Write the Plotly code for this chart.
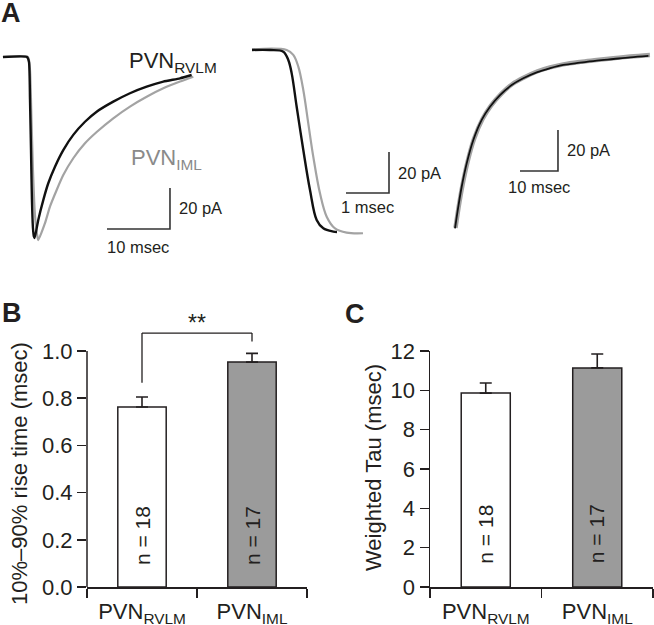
import plotly.graph_objects as go

W, H = 654, 625

# ---------------- DATA ----------------
# Panel A (left): whole EPSC, time (ms) and current (pA)
left_t_rvlm = [-3.97, -0.16, 0.16, 0.32, 0.48, 0.63, 0.79, 0.95, 1.06, 1.635, 2.429, 3.222, 4.286, 5.603, 7.190,
               9.048, 10.905, 13.54, 16.19, 18.84, 21.48, 24.13, 25.98]
left_i_rvlm = [0, 0, -2.4, -20.5, -45.4, -69.8, -83.4, -87.7, -88.3, -79.5, -69.8, -61.6, -53.5, -45.4, -38.0,
               -31.6, -26.7, -21.8, -17.7, -14.5, -12.0, -10.4, -8.8]
left_t_iml = [-3.97, 0.0, 0.32, 0.56, 0.79, 1.11, 1.43, 1.635, 2.698, 3.492, 4.556, 5.603, 7.190, 9.048, 10.905,
              13.54, 16.19, 18.84, 21.48, 24.13, 26.24]
left_i_iml = [0, 0, -6.3, -30.7, -55.1, -77.1, -86.3, -89.3, -81.1, -73.0, -64.9, -57.6, -49.4, -42.1, -36.6,
              -29.9, -24.2, -19.4, -15.3, -12.0, -9.6]

# Panel A (middle): rising phase
mid_t_rvlm = [-0.651, -0.233, 0.077, 0.193, 0.272, 0.388, 0.542, 0.698, 0.853, 1.007, 1.240, 1.326]
mid_i_rvlm = [0, 0, -0.8, -4.9, -11.4, -27.7, -48.8, -68.3, -82.9, -87.0, -88.6, -88.8]
mid_t_iml = [-0.651, 0.156, 0.309, 0.426, 0.542, 0.658, 0.774, 0.930, 1.086, 1.279, 1.551, 1.930]
mid_i_iml = [0.3, 0, -2.4, -8.1, -19.5, -35.8, -52.0, -69.9, -81.3, -87.0, -89.1, -89.4]

# Panel A (right): decay phase
right_t_rvlm = [0, 0.87, 1.76, 3.08, 4.82, 7.03, 9.21, 11.84, 14.92, 17.97, 21.50, 25.0, 28.5, 32.9, 37.3, 41.7,
                46.1, 50.9]
right_i_rvlm = [-87.0, -76.4, -66.7, -55.3, -43.9, -34.1, -27.7, -22.0, -17.1, -13.8, -10.9, -8.9, -7.3, -6.2,
                -5.2, -4.4, -3.6, -2.9]
right_t_iml = [0.13, 1.05, 1.97, 3.29, 5.0, 7.24, 9.47, 12.1, 15.13, 18.16, 21.58, 25.0, 28.5, 32.9, 37.3, 41.7,
               46.1, 51.3]
right_i_iml = [-86.8, -75.6, -65.9, -54.6, -43.4, -33.7, -27.1, -21.5, -16.6, -13.4, -10.5, -8.5, -7.0, -5.8,
               -4.9, -4.0, -3.2, -2.4]

# Panels B and C
groups = ["PVN<sub>RVLM</sub>", "PVN<sub>IML</sub>"]
n_labels = ["n = 18", "n = 17"]
rise_mean = [0.763, 0.953]
rise_sem = [0.042, 0.037]
tau_mean = [9.86, 11.14]
tau_sem = [0.51, 0.71]

# ---------------- STYLE ----------------
FONT = "Liberation Sans, Arial, sans-serif"
INK = "#231f20"
BLACK_TRACE = "#111111"
GRAY_TRACE = "#a3a3a3"
BAR_COLORS = ["#ffffff", "#9b9b9b"]


def px_x(p):
    return p / W


def px_y(p):
    return 1 - p / H


fig = go.Figure()

# Panel A traces
fig.add_trace(go.Scatter(x=left_t_iml, y=left_i_iml, mode="lines",
                         line=dict(color=GRAY_TRACE, width=2.2, shape="spline", smoothing=0.5),
                         xaxis="x", yaxis="y", showlegend=False))
fig.add_trace(go.Scatter(x=left_t_rvlm, y=left_i_rvlm, mode="lines",
                         line=dict(color=BLACK_TRACE, width=2.4, shape="spline", smoothing=0.5),
                         xaxis="x", yaxis="y", showlegend=False))
fig.add_trace(go.Scatter(x=mid_t_iml, y=mid_i_iml, mode="lines", line=dict(color=GRAY_TRACE, width=2.2, shape="spline"),
                         xaxis="x2", yaxis="y2", showlegend=False))
fig.add_trace(go.Scatter(x=mid_t_rvlm, y=mid_i_rvlm, mode="lines", line=dict(color=BLACK_TRACE, width=2.4, shape="spline"),
                         xaxis="x2", yaxis="y2", showlegend=False))
fig.add_trace(go.Scatter(x=right_t_iml, y=right_i_iml, mode="lines", line=dict(color=GRAY_TRACE, width=4.5, shape="spline"),
                         xaxis="x3", yaxis="y3", showlegend=False))
fig.add_trace(go.Scatter(x=right_t_rvlm, y=right_i_rvlm, mode="lines", line=dict(color=BLACK_TRACE, width=1.8, shape="spline"),
                         xaxis="x3", yaxis="y3", showlegend=False))

# scale bars (ms, pA) with corner positions in each panel's data units
scalebars = [
    # axis suffix, corner t, corner i, time length, current length, time label, label shift
    ("", 22.54, -83.9, 10, 20, "10 msec", -18),
    ("2", 2.535, -69.76, 1, 20, "1 msec", -14),
    ("3", 27.1, -59.0, 10, 20, "10 msec", -16),
]
annotations = []
for sfx, ct, ci, tl, il, tlabel, ysh in scalebars:
    fig.add_trace(go.Scatter(x=[ct - tl, ct, ct], y=[ci, ci, ci + il], mode="lines",
                             line=dict(color="#333333", width=1.6), xaxis="x" + sfx, yaxis="y" + sfx,
                             showlegend=False))
    annotations.append(dict(x=ct, y=ci + il / 2, xref="x" + sfx, yref="y" + sfx, text="20 pA",
                            showarrow=False, xanchor="left", yanchor="middle", xshift=7,
                            font=dict(size=16.5, color=INK, family=FONT)))
    annotations.append(dict(x=ct - tl / 2, y=ci, xref="x" + sfx, yref="y" + sfx, text=tlabel,
                            showarrow=False, xanchor="center", yanchor="middle", yshift=ysh,
                            font=dict(size=16.5, color=INK, family=FONT)))

# trace labels
annotations.append(dict(x=px_x(127), y=px_y(62), xref="paper", yref="paper", text="PVN<sub>RVLM</sub>",
                        showarrow=False, xanchor="left", yanchor="middle",
                        font=dict(size=22, color=INK, family=FONT)))
annotations.append(dict(x=px_x(129), y=px_y(159), xref="paper", yref="paper", text="PVN<sub>IML</sub>",
                        showarrow=False, xanchor="left", yanchor="middle",
                        font=dict(size=22, color="#8a8a8a", family=FONT)))

# Panels B / C bars
for sfx, means, sems in [("4", rise_mean, rise_sem), ("5", tau_mean, tau_sem)]:
    fig.add_trace(go.Bar(x=[0, 1], y=means, width=0.44, xaxis="x" + sfx, yaxis="y" + sfx,
                         marker=dict(color=BAR_COLORS, line=dict(color=INK, width=1.5)),
                         error_y=dict(type="data", symmetric=False, array=sems, arrayminus=[0, 0],
                                      color=INK, thickness=1.6, width=6),
                         showlegend=False, hoverinfo="skip"))

# n labels inside bars
for sfx, ypos in [("4", 0.216), ("5", 2.7)]:
    for k, lab in enumerate(n_labels):
        annotations.append(dict(x=k, y=ypos, xref="x" + sfx, yref="y" + sfx, text=lab, textangle=-90,
                                xanchor="center", yanchor="middle",
                                showarrow=False, font=dict(size=21, color=INK, family=FONT)))

# significance bracket on B
left_bottom = rise_mean[0] + rise_sem[0] + 0.06
right_bottom = rise_mean[1] + rise_sem[1] + 0.05
top = 1.076
shapes = [
    dict(type="line", xref="x4", yref="y4", x0=0, x1=0, y0=left_bottom, y1=top, line=dict(color=INK, width=1.3)),
    dict(type="line", xref="x4", yref="y4", x0=0, x1=1, y0=top, y1=top, line=dict(color=INK, width=1.3)),
    dict(type="line", xref="x4", yref="y4", x0=1, x1=1, y0=right_bottom, y1=top, line=dict(color=INK, width=1.3)),
    # y axis line of B (stops at 1.0)
    dict(type="line", xref="x4 domain", yref="y4", x0=0, x1=0, y0=0, y1=1.0, line=dict(color=INK, width=1.5)),
]
annotations.append(dict(x=0.5, y=top, xref="x4", yref="y4", text="**", showarrow=False, xanchor="center",
                        yanchor="bottom", yshift=-5, font=dict(size=23, color=INK, family=FONT)))

# y titles
annotations.append(dict(x=px_x(19), y=px_y(474), xref="paper", yref="paper", text="10%\u201390% rise time (msec)",
                        textangle=-90, xanchor="center", yanchor="middle", showarrow=False,
                        font=dict(size=22, color=INK, family=FONT)))
annotations.append(dict(x=px_x(373), y=px_y(468), xref="paper", yref="paper", text="Weighted Tau (msec)",
                        textangle=-90, xanchor="center", yanchor="middle", showarrow=False,
                        font=dict(size=22, color=INK, family=FONT)))

# panel letters
for letter, xp, yp in [("A", 11, 13), ("B", 12, 313), ("C", 355, 314)]:
    annotations.append(dict(x=px_x(xp), y=px_y(yp), xref="paper", yref="paper", text="<b>%s</b>" % letter,
                            xanchor="center", yanchor="middle",
                            showarrow=False, font=dict(size=27, color=INK, family=FONT)))

hidden = dict(visible=False, showgrid=False, zeroline=False, fixedrange=True, automargin=False)

yB_top = 1 - (587 - 236 * 1.12) / H


def bar_xaxis(domain, anchor):
    return dict(domain=domain, anchor=anchor, range=[-0.5, 1.5], tickmode="array", tickvals=[0, 1],
                ticktext=groups, ticks="", showline=True, linecolor=INK, linewidth=1.5, showgrid=False,
                zeroline=False, automargin=False, tickfont=dict(size=22, color=INK, family=FONT),
                ticklabelstandoff=4,
                minor=dict(tickmode="linear", tick0=-0.5, dtick=1, ticks="outside", ticklen=9,
                           tickcolor=INK, tickwidth=1.5, showgrid=False))


fig.update_layout(
    width=W, height=H, margin=dict(l=0, r=0, t=0, b=0, autoexpand=False),
    paper_bgcolor="white", plot_bgcolor="rgba(0,0,0,0)",
    font=dict(family=FONT, color=INK),
    hovermode=False,
    xaxis=dict(domain=[0, px_x(235)], range=[-4.44, 32.86], anchor="y", **hidden),
    yaxis=dict(domain=[px_y(255), 1], range=[-96.6, 27.8], anchor="x", **hidden),
    xaxis2=dict(domain=[px_x(240), px_x(420)], range=[-0.930, 3.256], anchor="y2", **hidden),
    yaxis2=dict(domain=[px_y(255), 1], range=[-100, 24.39], anchor="x2", **hidden),
    xaxis3=dict(domain=[px_x(430), 1], range=[-6.579, 52.368], anchor="y3", **hidden),
    yaxis3=dict(domain=[px_y(255), 1], range=[-100, 24.39], anchor="x3", **hidden),
    xaxis4=bar_xaxis([px_x(87), px_x(307)], "y4"),
    yaxis4=dict(domain=[px_y(587), yB_top], range=[0, 1.12], anchor="x4", tickmode="array",
                tickvals=[0, 0.2, 0.4, 0.6, 0.8, 1.0], tickformat=".1f", ticks="outside", ticklen=9,
                tickcolor=INK, tickwidth=1.5, showline=False, showgrid=False, zeroline=False, automargin=False,
                tickfont=dict(size=22, color=INK, family=FONT)),
    xaxis5=bar_xaxis([px_x(430), px_x(653)], "y5"),
    yaxis5=dict(domain=[px_y(587), px_y(351)], range=[0, 12], anchor="x5", tickmode="array",
                tickvals=[0, 2, 4, 6, 8, 10, 12], ticks="outside", ticklen=9, tickcolor=INK, tickwidth=1.5,
                showline=True, linecolor=INK, linewidth=1.5, showgrid=False, zeroline=False, automargin=False,
                tickfont=dict(size=22, color=INK, family=FONT)),
    shapes=shapes,
    annotations=annotations,
    bargap=0,
)

fig.write_html("out.html", config={"displayModeBar": False, "staticPlot": True},
               post_script="document.body.style.margin='0';document.body.style.overflow='hidden';")
